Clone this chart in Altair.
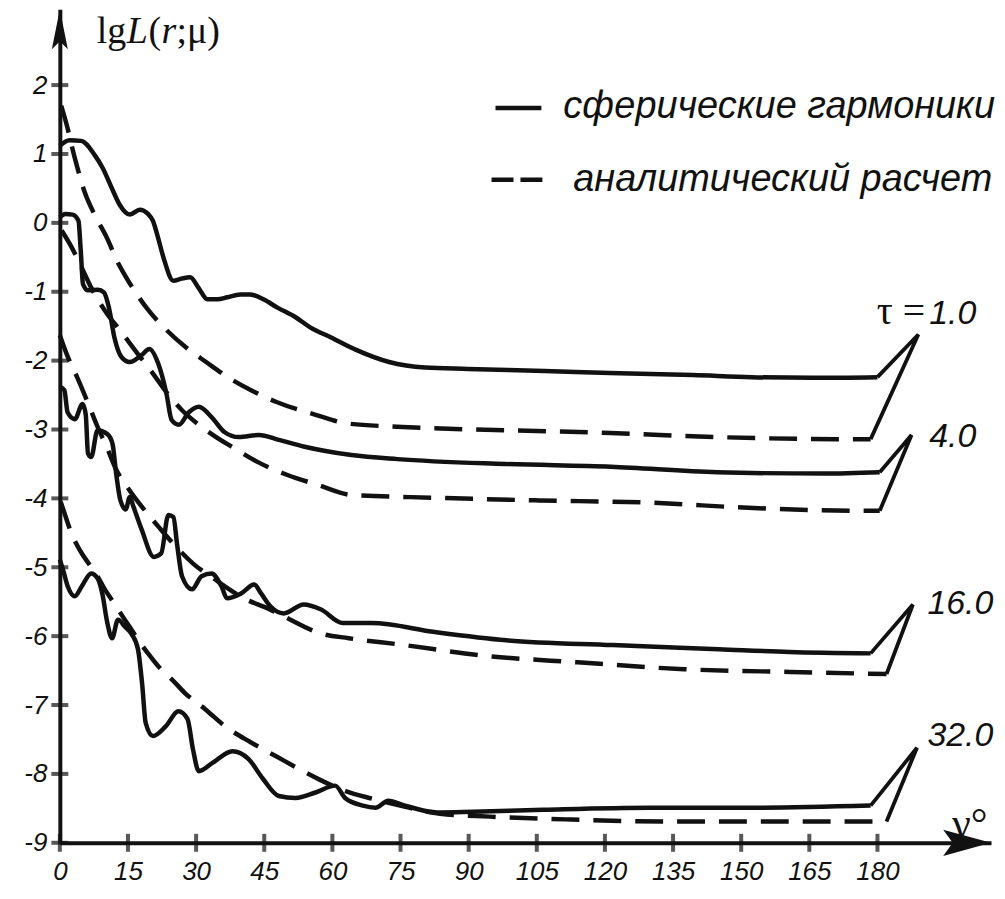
import altair as alt
import pandas as pd

# ---------------- data ----------------
taus = ["1.0", "4.0", "16.0", "32.0"]

# spherical harmonics (solid)
t1_sol_g = [0, 2.1, 4.7, 7.6, 9.4, 11.4, 13.2, 15.4, 17.6, 19.4, 20.5, 21.6, 22.8, 25.0, 26.8, 28.7, 30.5, 32.5, 34.7, 36.9,
            39.7, 41.9, 44.8, 47.9, 51.9, 55.2, 59.6, 65.1, 72.5, 80.4, 89.8, 106.7, 121.1, 139.4, 152.3, 165.7, 180]
t1_sol_v = [1.12, 1.20, 1.19, 0.99, 0.80, 0.51, 0.26, 0.12, 0.19, 0.13, 0.03, -0.21, -0.50, -0.84, -0.81, -0.79, -0.94, -1.11, -1.11, -1.08,
            -1.04, -1.04, -1.11, -1.23, -1.37, -1.52, -1.66, -1.84, -2.02, -2.10, -2.12, -2.15, -2.18, -2.21, -2.24, -2.25, -2.24]

t4_sol_g = [0, 1.2, 2.8, 4.1, 4.6, 5.1, 6.2, 8.4, 9.7, 10.8, 12.0, 13.6, 15.4, 18.0, 19.7, 21.7, 23.5, 24.6, 26.2, 28.4,
            30.6, 33.4, 36.3, 39.4, 43.8, 48.2, 53.9, 64.2, 74.3, 97.9, 121.3, 144.7, 168.2, 180.5]
t4_sol_v = [0.08, 0.13, 0.12, 0.03, -0.40, -0.89, -0.98, -0.97, -1.01, -1.23, -1.66, -1.95, -2.02, -1.92, -1.83, -2.05, -2.49, -2.86, -2.93, -2.75,
            -2.67, -2.82, -3.04, -3.11, -3.08, -3.15, -3.25, -3.37, -3.43, -3.50, -3.54, -3.62, -3.64, -3.62]

t16_sol_g = [0, 1.0, 1.7, 3.3, 5.0, 5.7, 6.2, 6.9, 8.3, 10.5, 11.6, 12.4, 13.3, 14.5, 15.4, 16.2, 18.0, 20.7, 22.3, 23.9,
             25.0, 25.8, 26.9, 29.1, 31.2, 33.4, 35.6, 36.8, 39.9, 42.8, 44.3, 46.4, 49.3, 53.7, 57.4, 62.3, 68.6, 82.6, 98.3, 121.7,
             145.1, 160.6, 178.5]
t16_sol_v = [-2.38, -2.43, -2.75, -2.85, -2.63, -2.78, -3.35, -3.40, -3.01, -3.07, -3.21, -3.64, -4.02, -4.16, -3.98, -4.12, -4.45, -4.85, -4.80, -4.24,
             -4.27, -4.66, -5.13, -5.32, -5.13, -5.09, -5.28, -5.45, -5.38, -5.25, -5.38, -5.57, -5.67, -5.54, -5.61, -5.81, -5.81, -5.94, -6.06, -6.13,
             -6.19, -6.23, -6.25]

t32_sol_g = [0, 0.8, 1.75, 3.3, 4.8, 6.9, 8.3, 9.4, 10.4, 11.5, 12.8, 14.3, 15.8, 17.2, 18.1, 18.9, 20.5, 23.3, 26.1, 28.1,
             29.3, 30.6, 33.6, 38.0, 41.5, 44.7, 48.2, 51.9, 56.3, 60.6, 62.8, 66.7, 69.5, 72.3, 76.0, 83.1, 90.9, 106.5, 129.9, 153.5,
             178.5]
t32_sol_v = [-4.89, -5.06, -5.28, -5.42, -5.28, -5.09, -5.16, -5.40, -5.79, -6.03, -5.76, -5.86, -5.97, -6.19, -6.68, -7.26, -7.45, -7.31, -7.09, -7.20,
             -7.64, -7.96, -7.84, -7.67, -7.78, -8.07, -8.32, -8.35, -8.27, -8.17, -8.35, -8.46, -8.49, -8.39, -8.46, -8.56, -8.55, -8.52, -8.49, -8.49,
             -8.46]

# analytical calculation (dashed)
t1_ana_g = [0.3, 1.4, 3.3, 5.5, 7.8, 10.3, 12.8, 15.6, 19.4, 23.4, 27.8, 32.2, 37.0, 42.1, 47.7, 56.5, 63.0, 74.2, 97.8, 121.2, 144.6, 172.0, 178.5]
t1_ana_v = [1.70, 1.45, 0.94, 0.44, 0.10, -0.21, -0.58, -0.90, -1.26, -1.55, -1.81, -2.02, -2.24, -2.43, -2.60, -2.79, -2.91, -2.96, -3.01, -3.05, -3.11, -3.14, -3.14]

t4_ana_g = [0.4, 2.4, 4.6, 6.9, 10.2, 13.6, 16.9, 20.3, 23.5, 26.9, 30.2, 33.5, 38.6, 43.5, 50.1, 56.6, 64.3, 82.2, 105.6, 129.0, 152.7, 176.0, 180.5]
t4_ana_v = [-0.11, -0.33, -0.62, -0.94, -1.30, -1.59, -1.88, -2.17, -2.46, -2.72, -2.91, -3.07, -3.28, -3.47, -3.66, -3.80, -3.95, -3.99, -4.03, -4.06, -4.14, -4.18, -4.18]

t16_ana_g = [0, 1.6, 3.8, 6.1, 8.3, 10.6, 12.1, 15.1, 18.4, 21.7, 25.0, 29.4, 33.8, 41.1, 45.9, 49.2, 57.4, 63.6, 74.7, 94.4, 114.0, 137.4, 160.8, 182.0]
t16_ana_v = [-1.63, -1.92, -2.24, -2.60, -2.96, -3.30, -3.54, -3.86, -4.15, -4.41, -4.66, -4.95, -5.16, -5.47, -5.60, -5.71, -5.96, -6.03, -6.12, -6.29, -6.38, -6.48, -6.52, -6.55]

t32_ana_g = [0.2, 1.3, 2.4, 4.3, 6.5, 8.3, 9.8, 11.4, 14.3, 19.4, 22.1, 24.7, 27.6, 32.0, 36.4, 42.0, 47.5, 53.0, 57.4, 62.9, 68.8, 74.9, 83.7, 94.7, 111.3, 133.9, 152.7, 182.0]
t32_ana_v = [-4.05, -4.27, -4.48, -4.74, -4.96, -5.13, -5.31, -5.47, -5.76, -6.25, -6.47, -6.63, -6.83, -7.06, -7.31, -7.54, -7.74, -7.94, -8.09, -8.25, -8.36, -8.46, -8.58, -8.62, -8.66, -8.69, -8.69, -8.69]

# points where the two curves of each tau meet, next to the tau labels
apex_g = [189.0, 187.5, 187.8, 188.7]
apex_v = [-1.62, -3.08, -5.54, -7.62]

# tau label anchors (left / baseline)
label_g = [191.4, 191.4, 191.0, 191.0]
label_v = [-1.47, -3.25, -5.68, -7.59]

x_ticks = list(range(0, 181, 15))
y_ticks = list(range(-9, 3))

legend_solid = "сферические гармоники"
legend_dashed = "аналитический расчет"

# ---------------- tables ----------------
solid_sets = [(t1_sol_g, t1_sol_v), (t4_sol_g, t4_sol_v), (t16_sol_g, t16_sol_v), (t32_sol_g, t32_sol_v)]
dash_sets = [(t1_ana_g, t1_ana_v), (t4_ana_g, t4_ana_v), (t16_ana_g, t16_ana_v), (t32_ana_g, t32_ana_v)]

def table(sets):
    rows = []
    for tau, (gs, vs) in zip(taus, sets):
        for i, (g, v) in enumerate(zip(gs, vs)):
            rows.append({"tau": tau, "i": i, "g": g, "v": v})
    return pd.DataFrame(rows)

solid_df = table(solid_sets)
dash_df = table(dash_sets)

conn_rows = []
for k, tau in enumerate(taus):
    sg, sv = solid_sets[k]
    dg, dv = dash_sets[k]
    pts = [(sg[-1], sv[-1]), (apex_g[k], apex_v[k]), (dg[-1], dv[-1])]
    for i, (g, v) in enumerate(pts):
        conn_rows.append({"tau": tau, "i": i, "g": g, "v": v})
conn_df = pd.DataFrame(conn_rows)

label_df = pd.DataFrame({"g": label_g, "v": label_v, "label": taus})
xt_df = pd.DataFrame({"g": x_ticks, "v": [-9] * len(x_ticks)})
yt_df = pd.DataFrame({"g": [0] * len(y_ticks), "v": y_ticks})
one = pd.DataFrame({"k": [0]})

# ---------------- chart ----------------
W, H = 934, 836
xs = alt.Scale(domain=[0, 205], nice=False, zero=False)
ys = alt.Scale(domain=[-9, 3.10], nice=False, zero=False)
SANS = "Liberation Sans"
SERIF = "Liberation Serif"
INK = "#111111"

x_axis = alt.Axis(values=x_ticks, title="", grid=False, ticks=False, tickSize=0,
                  domainColor=INK, domainWidth=4, labelFont=SANS, labelFontStyle="italic",
                  labelFontSize=26, labelColor=INK, labelPadding=16, labelAngle=0,
                  labelFlush=False, labelOverlap=False)
y_axis = alt.Axis(values=y_ticks, title="", grid=False, ticks=False, tickSize=0,
                  domainColor=INK, domainWidth=4, labelFont=SANS, labelFontStyle="italic",
                  labelFontSize=26, labelColor=INK, labelPadding=13, labelAlign="right",
                  labelBaseline="middle", labelFlush=False, labelOverlap=False,
                  labelExpr="datum.value + ''")

X = alt.X("g:Q", scale=xs, axis=x_axis)
Y = alt.Y("v:Q", scale=ys, axis=y_axis)

solid = alt.Chart(solid_df).mark_line(color=INK, strokeWidth=4.5, interpolate="monotone",
                                      strokeJoin="round").encode(
    x=X, y=Y, detail="tau:N", order="i:Q")

dashed = alt.Chart(dash_df).mark_line(color=INK, strokeWidth=4.5, interpolate="monotone",
                                      strokeDash=[28, 14]).encode(
    x=X, y=Y, detail="tau:N", order="i:Q")

conn = alt.Chart(conn_df).mark_line(color=INK, strokeWidth=3.8, strokeJoin="miter").encode(
    x=X, y=Y, detail="tau:N", order="i:Q")

xticks = alt.Chart(xt_df).mark_tick(orient="vertical", size=18, thickness=4, color=INK).encode(
    x=X, y=Y)
yticks = alt.Chart(yt_df).mark_tick(orient="horizontal", size=17, thickness=4, color=INK).encode(
    x=X, y=Y)

labels = alt.Chart(label_df).mark_text(font=SANS, fontStyle="italic", fontSize=34, align="left",
                                       baseline="alphabetic", color=INK).encode(
    x=X, y=Y, text="label:N")

tau_sym = alt.Chart(one).mark_text(text="τ =", font=SERIF, fontSize=40, align="right",
                                   baseline="alphabetic", color=INK).encode(
    x=alt.value(868), y=alt.value(316))

def txt(s, x, y, font, size, style="normal"):
    return alt.Chart(one).mark_text(text=s, font=font, fontSize=size, fontStyle=style, align="left",
                                    baseline="alphabetic", color=INK).encode(x=alt.value(x), y=alt.value(y))

ytitle = [
    txt("lg", 37, 34, SERIF, 38),
    txt("L", 67, 34, SERIF, 38, "italic"),
    txt("(", 89, 34, SERIF, 38),
    txt("r", 102, 34, SERIF, 38, "italic"),
    txt(";μ)", 117, 34, SERIF, 38),
]
xtitle = txt("γ°", 895, 830, SERIF, 42)

leg_t1 = txt(legend_solid, 505, 109, SANS, 38, "italic")
leg_t2 = txt(legend_dashed, 515, 182, SANS, 38, "italic")
leg_l1 = alt.Chart(one).mark_rule(color=INK, strokeWidth=4.5).encode(
    x=alt.value(437), x2=alt.value(483), y=alt.value(99))
leg_l2 = alt.Chart(one).mark_rule(color=INK, strokeWidth=4.5, strokeDash=[22, 7]).encode(
    x=alt.value(433), x2=alt.value(490), y=alt.value(171))

arrow_y = alt.Chart(one).mark_point(shape="M0,-1 L0.4,1 L0,0.6 L-0.4,1 Z", size=1600, filled=True,
                                    color=INK, opacity=1, strokeWidth=0).encode(
    x=alt.value(0), y=alt.value(20))
arrow_x = alt.Chart(one).mark_point(shape="M1,0 L-1,-0.55 L-0.6,0 L-1,0.55 Z", size=2304, filled=True,
                                    color=INK, opacity=1, strokeWidth=0).encode(
    x=alt.value(W - 24), y=alt.value(H))

chart = alt.layer(
    solid, dashed, conn, xticks, yticks, labels, tau_sym, *ytitle, xtitle,
    leg_t1, leg_t2, leg_l1, leg_l2, arrow_y, arrow_x
).properties(
    width=W, height=H,
    padding={"left": 52, "top": 0, "right": 6, "bottom": 40},
    autosize=alt.AutoSizeParams(type="none"),
    background="white",
).configure_view(strokeWidth=0)

chart.save("out.html", embed_options={"renderer": "svg", "actions": False})
